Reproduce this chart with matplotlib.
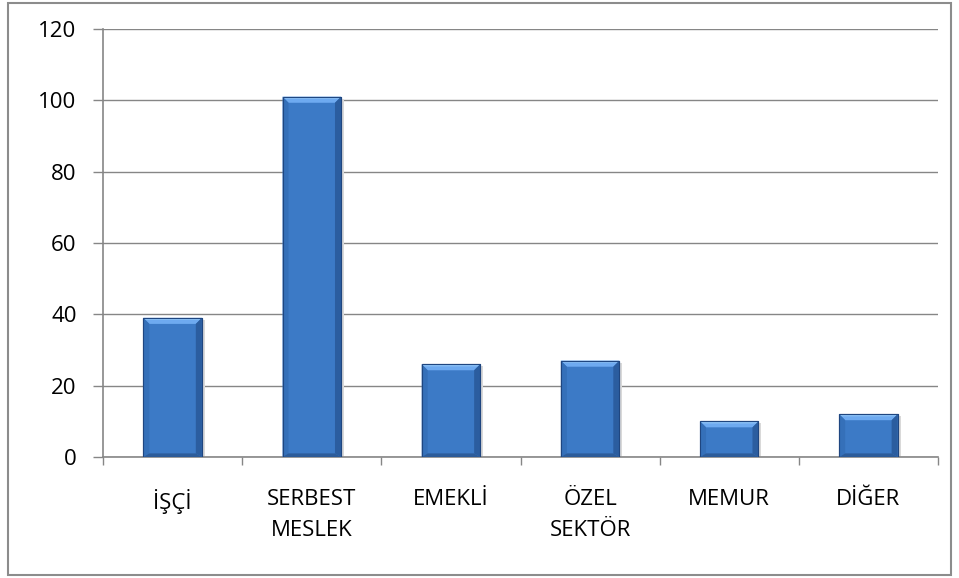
import matplotlib
matplotlib.use('Agg')
import matplotlib.pyplot as plt
from matplotlib.patches import Polygon, Rectangle

plt.rcParams['font.family'] = ['Open Sans', 'DejaVu Sans']

# Data
categories = ['İŞÇİ', 'SERBEST\nMESLEK', 'EMEKLİ', 'ÖZEL\nSEKTÖR', 'MEMUR', 'DİĞER']
values = [39, 101, 26, 27, 10, 12]
y_ticks = [0, 20, 40, 60, 80, 100, 120]

W, H = 959, 578
fig = plt.figure(figsize=(W / 100, H / 100), dpi=100)

# outer chart frame
fig.patches.append(Rectangle((8 / W, 3 / H), 943 / W, 572 / H, transform=fig.transFigure,
                             fill=False, edgecolor='#8c8c8c', linewidth=1.5))

left, right, top, bottom = 103, 938, 29, 457
ax = fig.add_axes([left / W, 1 - bottom / H, (right - left) / W, (bottom - top) / H])

grid_c = '#868686'
x = list(range(len(categories)))
bars = ax.bar(x, values, width=0.42, color='#3c7ac6', edgecolor='#1f4680',
              linewidth=0.8, zorder=3)

ax.set_xlim(-0.5, len(categories) - 0.5)
ax.set_ylim(0, 120)

# bevel size in data units (about 6 px)
dx = 6 / ((right - left) / len(categories))
dy = 6 / ((bottom - top) / 120)
for b in bars:
    x0, w, h = b.get_x(), b.get_width(), b.get_height()
    x1 = x0 + w
    # soft shadow on the right
    ax.add_patch(Rectangle((x1, 0), dx * 0.5, h - dy * 0.3, color='#d9d9d9', zorder=2, lw=0))
    # top facet
    ax.add_patch(Polygon([(x0, h), (x1, h), (x1 - dx, h - dy), (x0 + dx, h - dy)],
                         closed=True, facecolor='#6eaaf0', edgecolor='none', zorder=4))
    ax.add_patch(Polygon([(x0, h), (x1, h), (x1 - dx * 0.4, h - dy * 0.35), (x0 + dx * 0.4, h - dy * 0.35)],
                         closed=True, facecolor='#8cc2f7', edgecolor='none', zorder=4))
    # side and bottom facets
    ax.add_patch(Polygon([(x0, h), (x0 + dx, h - dy), (x0 + dx, dy * 0.6), (x0, 0)],
                         closed=True, facecolor='#3570b9', edgecolor='none', zorder=4))
    ax.add_patch(Polygon([(x1, h), (x1 - dx, h - dy), (x1 - dx, dy * 0.6), (x1, 0)],
                         closed=True, facecolor='#2b5d9f', edgecolor='none', zorder=4))
    ax.add_patch(Polygon([(x0, 0), (x1, 0), (x1 - dx, dy * 0.6), (x0 + dx, dy * 0.6)],
                         closed=True, facecolor='#2c5c9a', edgecolor='none', zorder=4))
    ax.add_patch(Rectangle((x0, 0), w, h, fill=False, edgecolor='#1f4680', lw=0.8, zorder=5))

ax.set_yticks(y_ticks)
ax.yaxis.grid(True, color=grid_c, linewidth=1, zorder=0)
ax.set_axisbelow(True)

ax.set_xticks(x)
ax.set_xticklabels(categories, fontsize=16, linespacing=1.6)
ax.set_xticks([i + 0.5 for i in range(-1, len(categories))], minor=True)
ax.tick_params(axis='x', which='major', length=0, pad=23)
ax.tick_params(axis='x', which='minor', length=6, width=1, color=grid_c, direction='out')
ax.tick_params(axis='y', length=7, width=1, color=grid_c, labelsize=16, pad=12)

for s in ['top', 'right']:
    ax.spines[s].set_visible(False)
for s in ['left', 'bottom']:
    ax.spines[s].set_color(grid_c)
    ax.spines[s].set_linewidth(1.2)

fig.savefig('out.png', dpi=100)
